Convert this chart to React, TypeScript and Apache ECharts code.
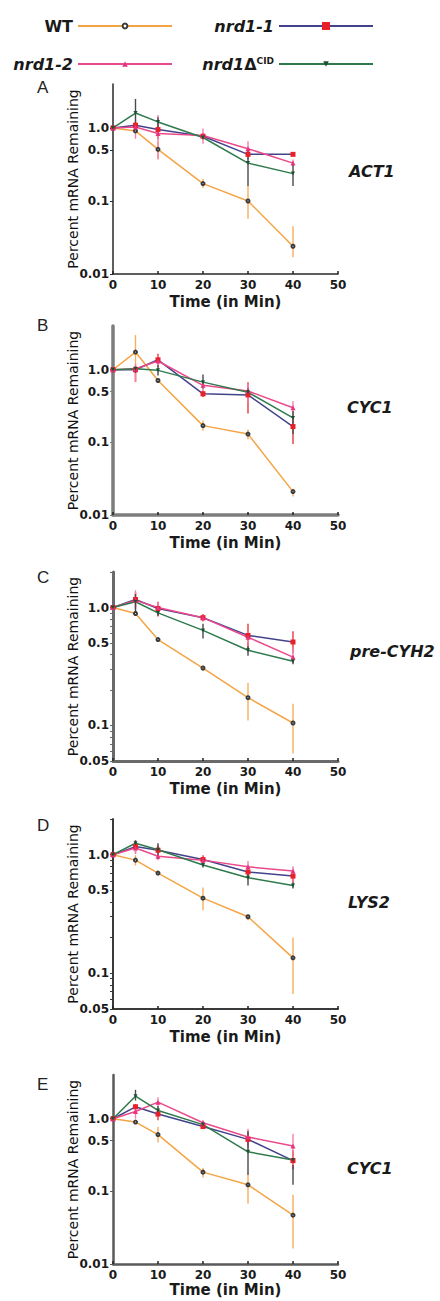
import React, { useEffect, useRef } from "react";
import * as echarts from "echarts";

// ---------- data ----------
const times = [0, 5, 10, 20, 30, 40];
const genotypeNames = ["WT", "nrd1-1", "nrd1-2", "nrd1ΔCID"];
const panelLetters = ["A", "B", "C", "D", "E"];
const geneLabels = ["ACT1", "CYC1", "pre-CYH2", "LYS2", "CYC1"];
const yLabelsWide = [0.01, 0.1, 0.5, 1];
const yLabelsNarrow = [0.05, 0.1, 0.5, 1];
const yTicksNarrow = [0.05, 0.06, 0.07, 0.08, 0.09, 0.1, 0.2, 0.3, 0.4, 0.5, 0.6, 0.7, 0.8, 0.9, 1, 2];

// Panel A - ACT1
const act1WT = [1, 0.91, 0.51, 0.173, 0.1, 0.024];
const act1WTErr = [null, [0.85, 0.97], [0.38, 0.64], [0.15, 0.2], [0.057, 0.16], [0.017, 0.045]];
const act1N1 = [1, 1.09, 0.95, 0.77, 0.435, 0.435];
const act1N1Err = [null, [0.95, 1.2], [0.7, 1.3], [0.7, 0.85], [0.38, 0.5], [0.41, 0.46]];
const act1N2 = [1, 1.03, 0.84, 0.79, 0.52, 0.33];
const act1N2Err = [null, [0.71, 1.27], [0.37, 1.5], [0.61, 0.98], [0.37, 0.66], [0.3, 0.37]];
const act1Cid = [1, 1.6, 1.21, 0.74, 0.33, 0.237];
const act1CidErr = [null, [1.03, 2.5], [1.0, 1.4], [0.7, 0.8], [0.16, 0.49], [0.16, 0.32]];

// Panel B - CYC1
const cyc1WT = [1, 1.75, 0.71, 0.17, 0.13, 0.021];
const cyc1WTErr = [null, [0.68, 3.0], [0.66, 0.76], [0.145, 0.2], [0.11, 0.15], [0.018, 0.023]];
const cyc1N1 = [1, 1.0, 1.37, 0.466, 0.45, 0.165];
const cyc1N1Err = [null, [0.68, 1.1], [1.09, 1.66], [0.42, 0.52], [0.25, 0.67], [0.095, 0.23]];
const cyc1N2 = [1, 1.03, 1.32, 0.61, 0.51, 0.3];
const cyc1N2Err = [null, [0.68, 1.2], [1.1, 1.55], [0.52, 0.71], [0.36, 0.64], [0.23, 0.37]];
const cyc1Cid = [1, 1.03, 0.98, 0.675, 0.49, 0.217];
const cyc1CidErr = [null, [0.9, 1.1], [0.83, 1.15], [0.55, 0.86], [0.45, 0.55], [0.13, 0.27]];

// Panel C - pre-CYH2
const cyh2WT = [1, 0.89, 0.535, 0.307, 0.172, 0.105];
const cyh2WTErr = [null, [0.85, 0.93], [0.51, 0.56], [0.29, 0.32], [0.11, 0.23], [0.058, 0.153]];
const cyh2N1 = [1, 1.17, 0.98, 0.82, 0.58, 0.51];
const cyh2N1Err = [null, [1.0, 1.35], [0.84, 1.12], [0.76, 0.88], [0.43, 0.73], [0.41, 0.63]];
const cyh2N2 = [1, 1.15, 1.0, 0.82, 0.56, 0.38];
const cyh2N2Err = [null, [0.95, 1.4], [0.9, 1.1], [0.78, 0.86], [0.5, 0.62], [0.34, 0.45]];
const cyh2Cid = [1, 1.12, 0.9, 0.64, 0.434, 0.35];
const cyh2CidErr = [null, [0.88, 1.3], [0.85, 0.95], [0.545, 0.73], [0.39, 0.47], [0.33, 0.38]];

// Panel D - LYS2
const lys2WT = [1, 0.9, 0.7, 0.43, 0.3, 0.135];
const lys2WTErr = [null, [0.81, 0.99], [0.67, 0.73], [0.34, 0.53], [0.28, 0.31], [0.067, 0.2]];
const lys2N1 = [1, 1.17, 1.09, 0.91, 0.715, 0.66];
const lys2N1Err = [null, [1.02, 1.32], [0.96, 1.2], [0.81, 0.99], [0.65, 0.79], [0.59, 0.74]];
const lys2N2 = [1, 1.14, 0.97, 0.9, 0.79, 0.73];
const lys2N2Err = [null, [1.03, 1.27], [0.9, 1.05], [0.85, 0.95], [0.69, 0.885], [0.65, 0.8]];
const lys2Cid = [1, 1.25, 1.1, 0.82, 0.64, 0.55];
const lys2CidErr = [null, [1.15, 1.32], [0.92, 1.25], [0.78, 0.86], [0.55, 0.71], [0.52, 0.59]];

// Panel E - CYC1
const cyc1bWT = [1, 0.9, 0.605, 0.184, 0.123, 0.047];
const cyc1bWTErr = [null, [0.85, 0.95], [0.47, 0.77], [0.155, 0.21], [0.068, 0.18], [0.0164, 0.09]];
const cyc1bN1 = [1, 1.46, 1.16, 0.78, 0.52, 0.265];
const cyc1bN1Err = [null, [1.2, 1.6], [0.95, 1.35], [0.72, 0.86], [0.43, 0.67], [0.2, 0.37]];
const cyc1bN2 = [1, 1.26, 1.69, 0.88, 0.56, 0.42];
const cyc1bN2Err = [null, [1.0, 1.5], [1.44, 1.98], [0.8, 0.95], [0.39, 0.73], [0.35, 0.62]];
const cyc1bCid = [1, 2.04, 1.3, 0.83, 0.35, 0.27];
const cyc1bCidErr = [null, [1.78, 2.5], [1.1, 1.5], [0.78, 0.9], [0.17, 0.67], [0.123, 0.23]];

const panelMeans = [
  [act1WT, act1N1, act1N2, act1Cid],
  [cyc1WT, cyc1N1, cyc1N2, cyc1Cid],
  [cyh2WT, cyh2N1, cyh2N2, cyh2Cid],
  [lys2WT, lys2N1, lys2N2, lys2Cid],
  [cyc1bWT, cyc1bN1, cyc1bN2, cyc1bCid],
];
const panelErrs = [
  [act1WTErr, act1N1Err, act1N2Err, act1CidErr],
  [cyc1WTErr, cyc1N1Err, cyc1N2Err, cyc1CidErr],
  [cyh2WTErr, cyh2N1Err, cyh2N2Err, cyh2CidErr],
  [lys2WTErr, lys2N1Err, lys2N2Err, lys2CidErr],
  [cyc1bWTErr, cyc1bN1Err, cyc1bN2Err, cyc1bCidErr],
];

// ---------- layout & style ----------
const layout = [
  { top: 84, height: 190, min: 0.01, max: 4, labels: yLabelsWide, ticks: yLabelsWide, axisColor: "#2a2a2a", axisWidth: 1.5, nameGap: 20, letterTop: 79, geneLeft: 349, geneTop: 163 },
  { top: 326, height: 189, min: 0.01, max: 4, labels: yLabelsWide, ticks: yLabelsWide, axisColor: "#7d7d7d", axisWidth: 3.5, nameGap: 20, letterTop: 317, geneLeft: 347, geneTop: 399 },
  { top: 572, height: 189, min: 0.05, max: 2, labels: yLabelsNarrow, ticks: yTicksNarrow, axisColor: "#6a6a6a", axisWidth: 3, nameGap: 20, letterTop: 569, geneLeft: 350, geneTop: 643 },
  { top: 819, height: 190, min: 0.05, max: 2, labels: yLabelsNarrow, ticks: yTicksNarrow, axisColor: "#3a3a3a", axisWidth: 2, nameGap: 20, letterTop: 817, geneLeft: 348, geneTop: 894 },
  { top: 1075, height: 189, min: 0.01, max: 4, labels: yLabelsWide, ticks: yLabelsWide, axisColor: "#5a5a5a", axisWidth: 2.5, nameGap: 18, letterTop: 1076, geneLeft: 347, geneTop: 1160 },
];

const styles = [
  { line: "#F5A445", marker: "#3a3a3a", symbol: "emptyCircle", size: 3, rotate: 0, err: "#F8AE5E" },
  { line: "#43438C", marker: "#E8202A", symbol: "rect", size: 5, rotate: 0, err: "#E8383D" },
  { line: "#EA4A8C", marker: "#E8337F", symbol: "triangle", size: 5, rotate: 0, err: "#F282AC" },
  { line: "#2E7A4C", marker: "#1F4F33", symbol: "triangle", size: 4, rotate: 180, err: "#4a4a4a" },
];

const legendLayout = [
  { right: 267, top: 18, itemHeight: 6, fmt: "{b|WT}" },
  { right: 66, top: 18, itemHeight: 10, fmt: "{i|nrd1-1}" },
  { right: 267, top: 56, itemHeight: 7, fmt: "{i|nrd1-2}" },
  { right: 66, top: 56, itemHeight: 7, fmt: "{i|nrd1}{d|Δ}{s|CID}" },
];

const TEXT = "#1a1a1a";

function fmtY(v: number) {
  if (Math.abs(v - 1) < 1e-9) return "1.0";
  return String(+v.toPrecision(3));
}

function buildOption() {
  const grid: any[] = [];
  const xAxis: any[] = [];
  const yAxis: any[] = [];
  const series: any[] = [];
  const graphic: any[] = [];

  layout.forEach((L, i) => {
    grid.push({ left: 113, top: L.top, width: 225, height: L.height, containLabel: false, outerBoundsMode: "none" });
    xAxis.push({
      type: "value",
      gridIndex: i,
      min: 0,
      max: 50,
      interval: 10,
      name: "Time (in Min)",
      nameLocation: "middle",
      nameGap: L.nameGap,
      nameMoveOverlap: false,
      nameTextStyle: { fontFamily: "DejaVu Sans", fontWeight: "bold", fontSize: 15, color: TEXT },
      axisLine: { show: true, onZero: false, lineStyle: { color: L.axisColor, width: L.axisWidth } },
      axisTick: { show: true, inside: true, length: 3, lineStyle: { color: "#222", width: 1.5 } },
      axisLabel: { margin: 5, fontFamily: "DejaVu Sans", fontWeight: "bold", fontSize: 12, color: TEXT },
      splitLine: { show: false },
    });
    yAxis.push({
      type: "log",
      logBase: 10,
      gridIndex: i,
      min: L.min,
      max: L.max,
      name: "Percent mRNA Remaining",
      nameLocation: "middle",
      nameGap: 33,
      nameMoveOverlap: false,
      nameTextStyle: { fontFamily: "DejaVu Sans", fontSize: 14, color: "#111" },
      axisLine: { show: true, onZero: false, lineStyle: { color: L.axisColor, width: L.axisWidth } },
      axisTick: { show: true, length: 3, customValues: L.ticks, lineStyle: { color: L.axisColor, width: 1 } },
      axisLabel: {
        margin: 4,
        customValues: L.labels,
        formatter: (v: number) => fmtY(v),
        fontFamily: "DejaVu Sans",
        fontWeight: "bold",
        fontSize: 12,
        color: TEXT,
      },
      splitLine: { show: false },
      minorTick: { show: false },
    });

    // error bars
    genotypeNames.forEach((g, k) => {
      const st = styles[k];
      const errs = panelErrs[i][k];
      const data: any[] = [];
      times.forEach((t, j) => {
        const e = errs[j];
        if (e) data.push([t, e[0], e[1]]);
      });
      series.push({
        type: "custom",
        name: g + " error",
        xAxisIndex: i,
        yAxisIndex: i,
        z: 2,
        clip: true,
        encode: { x: 0, y: [1, 2] },
        data,
        renderItem: (params: any, api: any) => {
          const x = api.value(0);
          const p1 = api.coord([x, api.value(1)]);
          const p2 = api.coord([x, api.value(2)]);
          return {
            type: "line",
            shape: { x1: p1[0], y1: p1[1], x2: p2[0], y2: p2[1] },
            style: { stroke: st.err, lineWidth: 1.4 },
          };
        },
      });
    });

    // lines
    genotypeNames.forEach((g, k) => {
      const st = styles[k];
      const vals = panelMeans[i][k];
      series.push({
        type: "line",
        name: g,
        xAxisIndex: i,
        yAxisIndex: i,
        z: 3,
        data: times.map((t, j) => [t, vals[j]]),
        symbol: st.symbol,
        symbolSize: st.size,
        symbolRotate: st.rotate,
        showSymbol: true,
        lineStyle: { color: st.line, width: 1.5 },
        itemStyle: { color: st.marker, borderWidth: 1.5 },
        emphasis: { disabled: true },
      });
    });

    graphic.push({
      type: "text",
      left: 37,
      top: L.letterTop,
      style: { text: panelLetters[i], font: '17px "Liberation Sans"', fill: "#222" },
    });
    graphic.push({
      type: "text",
      left: L.geneLeft,
      top: L.geneTop,
      style: { text: geneLabels[i], font: 'italic bold 16px "DejaVu Sans"', fill: TEXT },
    });
  });

  const rich = {
    b: { fontFamily: "DejaVu Sans", fontWeight: "bold", fontSize: 16, color: TEXT },
    i: { fontFamily: "DejaVu Sans", fontWeight: "bold", fontStyle: "italic", fontSize: 16, color: TEXT },
    d: { fontFamily: "DejaVu Sans", fontWeight: "bold", fontSize: 16, color: TEXT },
    s: { fontFamily: "DejaVu Sans", fontWeight: "bold", fontSize: 9, color: TEXT, verticalAlign: "top" },
  };

  const legend = legendLayout.map((Lg, k) => ({
    data: [genotypeNames[k]],
    right: Lg.right,
    top: Lg.top,
    padding: 0,
    align: "right",
    itemWidth: 94,
    itemHeight: Lg.itemHeight,
    selectedMode: false,
    lineStyle: { width: 2 },
    formatter: () => Lg.fmt,
    textStyle: { rich },
  }));

  return {
    animation: false,
    backgroundColor: "#ffffff",
    textStyle: { fontFamily: "DejaVu Sans" },
    legend,
    grid,
    xAxis,
    yAxis,
    series,
    graphic,
  };
}

export default function App() {
  const ref = useRef<HTMLDivElement>(null);
  useEffect(() => {
    document.body.style.margin = "0";
    const chart = echarts.init(ref.current as HTMLDivElement, undefined, { renderer: "svg" });
    chart.setOption(buildOption() as any);
    return () => chart.dispose();
  }, []);
  return <div ref={ref} style={{ width: 440, height: 1301 }} />;
}
